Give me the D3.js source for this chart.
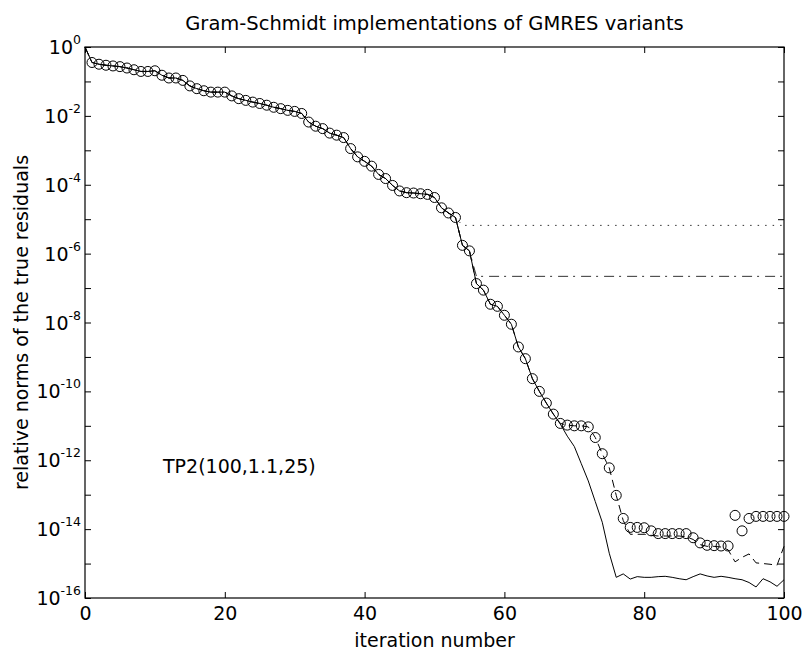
<!DOCTYPE html>
<html lang="en">
<head>
  <meta charset="UTF-8">
  <title>Gram-Schmidt implementations of GMRES variants</title>
  <script src="https://d3js.org/d3.v7.min.js"></script>
  <style>
    body { margin: 0; background: #fff; }
    text { font-family: "DejaVu Sans", "Liberation Sans", Arial, sans-serif; fill: #000; }
  </style>
</head>
<body>
  <div id="chart"></div>

  <script>
    // log10 of the relative residual norm
    // iterations 0..53 : all variants agree
    const headLog = [
      0, -0.45, -0.50, -0.53, -0.55, -0.57, -0.61, -0.66, -0.71, -0.71,
      -0.69, -0.82, -0.90, -0.90, -0.97, -1.13, -1.21, -1.27, -1.31, -1.31,
      -1.31, -1.42, -1.50, -1.55, -1.60, -1.64, -1.69, -1.75, -1.79, -1.84,
      -1.87, -1.93, -2.18, -2.30, -2.37, -2.50, -2.56, -2.63, -2.95, -3.19,
      -3.32, -3.46, -3.70, -3.82, -4.02, -4.18, -4.23, -4.24, -4.26, -4.28,
      -4.37, -4.67, -4.82, -4.95
    ];
    // iterations 54..67
    const midLog = [-5.76, -5.92, -6.87, -7.06, -7.47, -7.53, -7.79, -8.05, -8.71, -9.05, -9.63, -10.0, -10.34, -10.66];
    // iterations 68..100
    const circleTailLog = [
      -10.93, -10.98, -11.0, -11.0, -11.03, -11.34, -11.81, -12.22, -13.02,
      -13.69, -13.95, -13.95, -13.96,
      -14.05, -14.13, -14.13, -14.13, -14.13, -14.13,
      -14.25, -14.40, -14.47, -14.48,
      -14.49, -14.49, -13.60, -14.05,
      -13.69, -13.63, -13.63, -13.63, -13.63, -13.63
    ];
    const solidTailLog = [
      -10.95, -11.3, -11.6, -12.1, -12.6, -13.2, -13.8, -14.7, -15.4,
      -15.3, -15.45, -15.38, -15.4,
      -15.4, -15.38, -15.37, -15.4, -15.44, -15.47,
      -15.38, -15.3, -15.36, -15.4,
      -15.37, -15.4, -15.44, -15.47,
      -15.55, -15.68, -15.44, -15.53, -15.66, -15.47
    ];
    // iterations 77..100
    const dashedTailLog = [
      -13.75, -14.15, -14.15, -14.15,
      -14.18, -14.2, -14.2, -14.2, -14.2, -14.22,
      -14.3, -14.45, -14.5, -14.5,
      -14.52, -14.6, -14.95, -14.82,
      -14.72, -14.98, -15.0, -15.02, -15.05, -14.5
    ];
    // stagnation levels
    const dottedLevel = { from: 54, to: 100, log: -5.18 };
    const dashDotLevel = { from: 56, to: 100, log: -6.66 };

    const xTicks = [0, 20, 40, 60, 80, 100];
    const yExponents = [0, -1, -2, -3, -4, -5, -6, -7, -8, -9, -10, -11, -12, -13, -14, -15, -16];
    const yLabelExponents = [0, -2, -4, -6, -8, -10, -12, -14, -16];

    const toPoints = (logs, start) => logs.map((v, k) => ({ it: start + k, val: Math.pow(10, v) }));

    const circles = toPoints(headLog.slice(1).concat(midLog, circleTailLog), 1);
    const dashed = toPoints(headLog.concat(midLog, circleTailLog.slice(0, 9), dashedTailLog), 0);
    const solid = toPoints(headLog.concat(midLog, solidTailLog), 0);
    const dotted = toPoints(headLog, 0).concat([
      { it: dottedLevel.from, val: Math.pow(10, dottedLevel.log) },
      { it: dottedLevel.to, val: Math.pow(10, dottedLevel.log) }
    ]);
    const dashDot = toPoints(headLog.concat(midLog.slice(0, 2)), 0).concat([
      { it: dashDotLevel.from, val: Math.pow(10, dashDotLevel.log) },
      { it: dashDotLevel.to, val: Math.pow(10, dashDotLevel.log) }
    ]);

    const W = 807, H = 652;
    const pLeft = 85, pRight = 784, pTop = 47, pBottom = 598;
    const fs = 19;

    const svg = d3.select("#chart").append("svg")
      .attr("width", W)
      .attr("height", H);

    const x = d3.scaleLinear().domain([0, 100]).range([pLeft, pRight]);
    const y = d3.scaleLog().domain([1, 1e-16]).range([pTop, pBottom]);

    const line = d3.line().x(d => x(d.it)).y(d => y(d.val));

    const plot = svg.append("g");

    plot.append("path").datum(dotted)
      .attr("d", line).attr("fill", "none")
      .attr("stroke", "#333").attr("stroke-width", 1)
      .attr("stroke-dasharray", "1.5,6");

    plot.append("path").datum(dashDot)
      .attr("d", line).attr("fill", "none")
      .attr("stroke", "#333").attr("stroke-width", 1)
      .attr("stroke-dasharray", "10,5,2,6");

    plot.append("path").datum(dashed)
      .attr("d", line).attr("fill", "none")
      .attr("stroke", "#000").attr("stroke-width", 1)
      .attr("stroke-dasharray", "8,5");

    plot.append("path").datum(solid)
      .attr("d", line).attr("fill", "none")
      .attr("stroke", "#000").attr("stroke-width", 1);

    plot.selectAll("circle")
      .data(circles)
      .enter().append("circle")
      .attr("cx", d => x(d.it))
      .attr("cy", d => y(d.val))
      .attr("r", 5)
      .attr("fill", "none")
      .attr("stroke", "#000")
      .attr("stroke-width", 1);

    // axes, ticks pointing inwards
    const yTickVals = yExponents.map(e => Math.pow(10, e));

    function styleAxis(g) {
      g.select(".domain").remove();
      g.selectAll(".tick line").attr("stroke", "#000");
    }

    svg.append("g")
      .attr("transform", "translate(0," + pBottom + ")")
      .call(d3.axisBottom(x).tickValues(xTicks).tickSize(-6).tickPadding(9))
      .call(styleAxis)
      .call(g => g.selectAll(".tick text")
        .attr("font-size", fs).attr("font-family", null));

    svg.append("g")
      .attr("transform", "translate(0," + pTop + ")")
      .call(d3.axisTop(x).tickValues(xTicks).tickSize(-6).tickFormat(""))
      .call(styleAxis);

    svg.append("g")
      .attr("transform", "translate(" + pLeft + ",0)")
      .call(d3.axisLeft(y).tickValues(yTickVals).tickSize(-6).tickFormat(""))
      .call(styleAxis);

    svg.append("g")
      .attr("transform", "translate(" + pRight + ",0)")
      .call(d3.axisRight(y).tickValues(yTickVals).tickSize(-6).tickFormat(""))
      .call(styleAxis);

    // frame
    svg.append("rect")
      .attr("x", pLeft).attr("y", pTop)
      .attr("width", pRight - pLeft).attr("height", pBottom - pTop)
      .attr("fill", "none").attr("stroke", "#000").attr("stroke-width", 1.2);

    // y tick labels 10^e
    const yLab = svg.append("g").selectAll("text")
      .data(yLabelExponents)
      .enter().append("text")
      .attr("text-anchor", "end")
      .attr("x", pLeft - 4)
      .attr("y", e => y(Math.pow(10, e)) + 7)
      .attr("font-size", fs);
    yLab.append("tspan").text("10");
    yLab.append("tspan")
      .attr("dy", -10)
      .attr("font-size", 12.5)
      .text(e => String(e));

    // titles
    svg.append("text")
      .attr("x", (pLeft + pRight) / 2).attr("y", 30)
      .attr("text-anchor", "middle").attr("font-size", 19.5)
      .text("Gram-Schmidt implementations of GMRES variants");

    svg.append("text")
      .attr("x", (pLeft + pRight) / 2).attr("y", 647)
      .attr("text-anchor", "middle").attr("font-size", fs)
      .text("iteration number");

    svg.append("text")
      .attr("transform", "translate(28," + (pTop + pBottom) / 2 + ") rotate(-90)")
      .attr("text-anchor", "middle").attr("font-size", fs)
      .text("relative norms of the true residuals");

    svg.append("text")
      .attr("x", 163).attr("y", 473)
      .attr("font-size", fs)
      .text("TP2(100,1.1,25)");
  </script>
</body>
</html>
